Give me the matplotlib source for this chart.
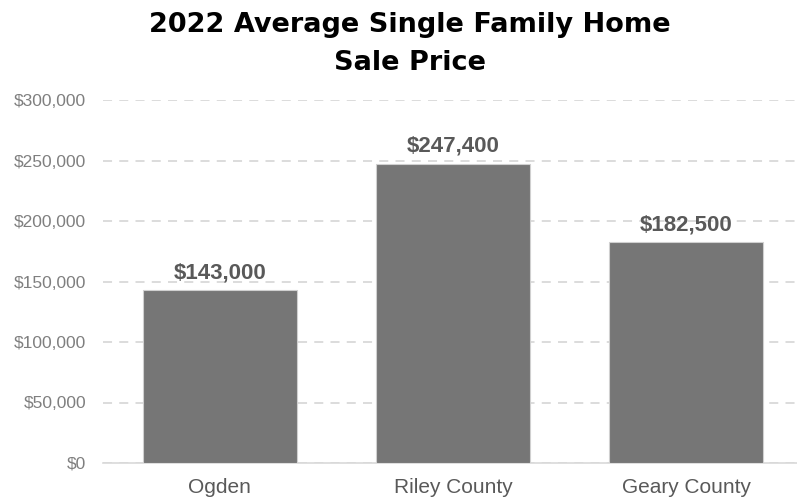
import matplotlib
matplotlib.use("Agg")
import matplotlib.pyplot as plt
from matplotlib.ticker import FuncFormatter

categories = ["Ogden", "Riley County", "Geary County"]
values = [143000, 247400, 182500]
labels = ["$143,000", "$247,400", "$182,500"]
yticks = [0, 50000, 100000, 150000, 200000, 250000, 300000]

W, H = 797, 500
fig = plt.figure(figsize=(W / 100, H / 100), dpi=100)
left, right, bottom, top = 103, 803, 37, 400
ax = fig.add_axes([left / W, bottom / H, (right - left) / W, (top - bottom) / H])

x = list(range(len(categories)))
ax.bar(x, values, width=0.66, color="#767676", edgecolor="#d0d0d0", linewidth=0.8, zorder=3)
ax.set_xlim(-0.5, 2.5)
ax.set_ylim(0, 300000)
ax.set_yticks(yticks)
ax.yaxis.set_major_formatter(FuncFormatter(lambda v, p: f"${v:,.0f}"))
ax.set_xticks(x)
ax.set_xticklabels(categories, fontsize=15, color="#595959", family=["Liberation Sans", "DejaVu Sans"])
for t in ax.get_yticklabels():
    t.set_fontsize(12.5)
    t.set_color("#7f7f7f")
    t.set_family(["Liberation Sans", "DejaVu Sans"])
ax.tick_params(axis="both", length=0)
ax.tick_params(axis="y", pad=12)
ax.tick_params(axis="x", pad=11)
for s in ["top", "right", "left"]:
    ax.spines[s].set_visible(False)
ax.spines["bottom"].set_color("#d9d9d9")
ax.spines["bottom"].set_linewidth(1.2)
ax.yaxis.grid(True, color="#d9d9d9", linestyle=(0, (5, 4)), linewidth=1.3, zorder=0)
ax.set_axisbelow(True)

for xi, v, lab in zip(x, values, labels):
    ax.annotate(lab, (xi, v), xytext=(0, 5), textcoords="offset points", ha="center", va="bottom",
                fontsize=16, fontweight="bold", color="#595959", family=["Liberation Sans", "DejaVu Sans"])

fig.text(410 / W, 1 - 44 / H, "2022 Average Single Family Home\nSale Price", ha="center", va="center",
         fontsize=19.5, fontweight="bold", color="black", family=["DejaVu Sans"], linespacing=1.62)

fig.savefig("out.png", dpi=100)
